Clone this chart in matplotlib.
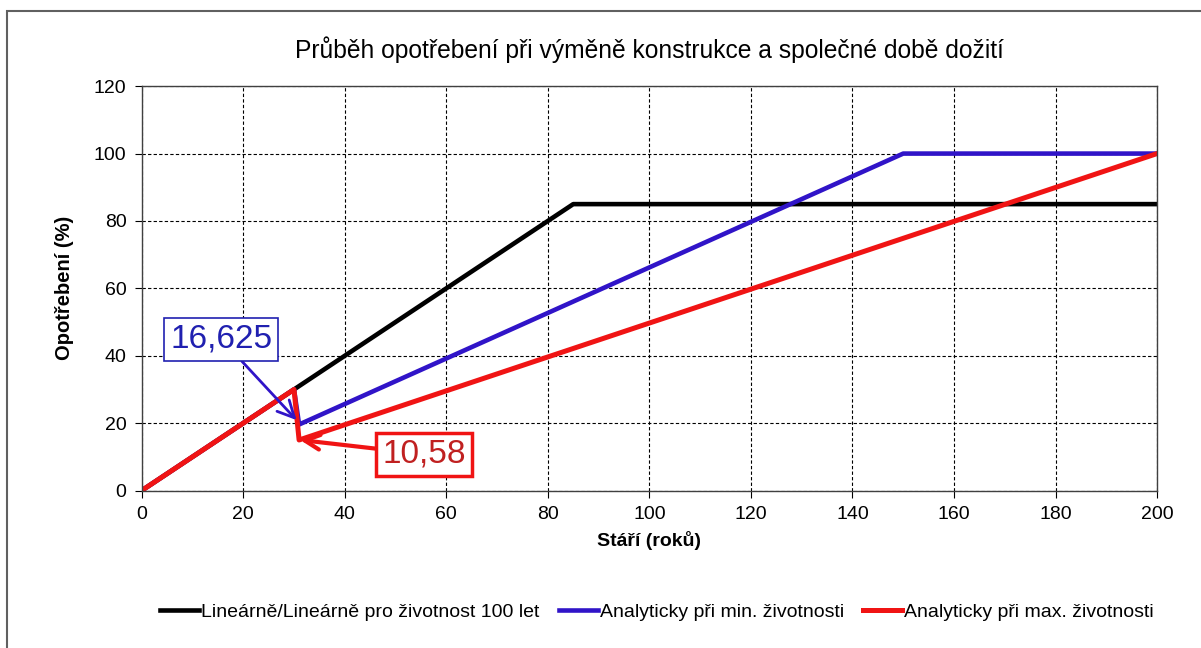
import matplotlib
matplotlib.use('Agg')
from matplotlib import pyplot
from matplotlib.patches import Rectangle

narrow = ['Liberation Sans Narrow', 'Liberation Sans', 'DejaVu Sans']
pyplot.rcParams['font.family'] = ['Liberation Sans', 'DejaVu Sans']

# data
age_linear = [0, 85, 200]
wear_linear = [0, 85, 85]
age_min = [0, 30, 31, 150, 200]
wear_min = [0, 30, 19.6, 100, 100]
age_max = [0, 30, 31, 200]
wear_max = [0, 30, 15, 100]

labels = ['Lineárně/Lineárně pro životnost 100 let',
          'Analyticky při min. životnosti',
          'Analyticky při max. životnosti']
x_ticks = list(range(0, 201, 20))
y_ticks = list(range(0, 121, 20))

fig = pyplot.figure(figsize=(12.01, 6.48), dpi=100)
fig.patches.append(Rectangle((0.0058, -0.2), 1.2, 1.183, transform=fig.transFigure,
                             fill=False, edgecolor='#606060', linewidth=1.5))
ax = fig.add_axes([0.118, 0.243, 0.8454, 0.624])

blue = '#3014c8'
red = '#f01414'
ax.plot(age_linear, wear_linear, color='black', lw=3.3, label=labels[0])
ax.plot(age_min, wear_min, color=blue, lw=3.3, label=labels[1])
ax.plot(age_max, wear_max, color=red, lw=3.6, label=labels[2])

ax.set_xlim(0, 200)
ax.set_ylim(0, 120)
ax.set_xticks(x_ticks)
ax.set_yticks(y_ticks)
ax.grid(True, color='black', linestyle=(0, (3, 2)), linewidth=0.8)
ax.tick_params(direction='out', length=5, width=0.8, labelsize=14, pad=6)
for s in ax.spines.values():
    s.set_linewidth(1.0)
    s.set_color('#404040')

ax.set_title('Průběh opotřebení při výměně konstrukce a společné době dožití',
             family=narrow, fontsize=17.7, pad=20)
ax.set_xlabel('Stáří (roků)', fontsize=14, fontweight='bold', labelpad=6)
ax.set_ylabel('Opotřebení (%)', fontsize=14.5, fontweight='bold', labelpad=14)

ax.annotate('16,625', xy=(30.5, 20.9), xytext=(15.7, 44.9), fontsize=24,
            color='#2020b0', ha='center', va='center',
            bbox=dict(boxstyle='square,pad=0.18', fc='white', ec='#2020b0', lw=1.2),
            arrowprops=dict(arrowstyle='->,head_length=0.5,head_width=0.25',
                            color=blue, lw=2, shrinkA=0, shrinkB=0))
ax.annotate('10,58', xy=(31.2, 15.0), xytext=(55.6, 10.8), fontsize=24,
            color='#c02020', ha='center', va='center',
            bbox=dict(boxstyle='square,pad=0.18', fc='white', ec=red, lw=2.5),
            arrowprops=dict(arrowstyle='->,head_length=0.45,head_width=0.22',
                            color=red, lw=3, shrinkA=0, shrinkB=0))

fig.legend(loc='center', bbox_to_anchor=(0.547, 0.055), ncol=3, frameon=False,
           prop=dict(family=narrow, size=14), handlelength=2.0, handletextpad=0.1,
           columnspacing=1.0)

fig.savefig('out.png', dpi=100)
